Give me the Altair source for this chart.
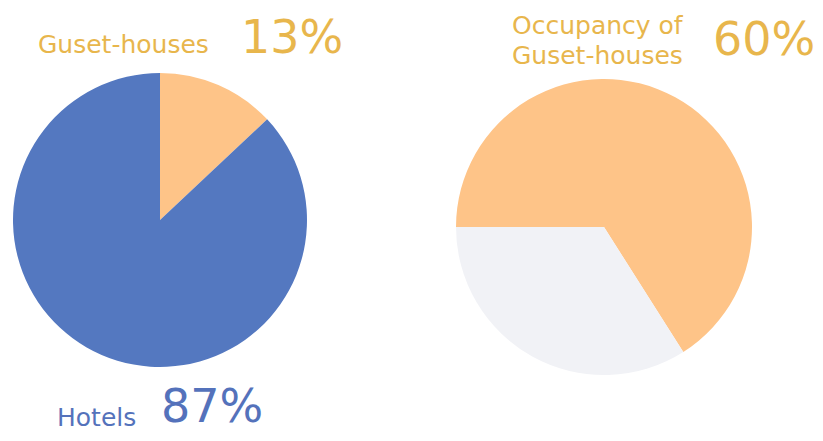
import altair as alt
import pandas as pd

# Left pie: share of accommodation
share_labels = ["Guset-houses", "Hotels"]
share_values = [13, 87]
share_colors = ["#fec488", "#5478c0"]

# Right pie: occupancy of guest-houses (slice sizes as drawn)
occ_labels = ["Occupied", "Vacant"]
occ_values = [66, 34]
occ_colors = ["#fec488", "#f1f2f6"]

# Text annotations
ann_texts = ["Guset-houses", "13%", "Hotels", "87%", "Occupancy of", "Guset-houses", "60%"]

left = pd.DataFrame({"label": share_labels, "value": share_values, "order": [0, 1]})
right = pd.DataFrame({"label": occ_labels, "value": occ_values, "order": [0, 1]})

PI = 3.141592653589793

left_pie = alt.Chart(left).mark_arc(outerRadius=147).encode(
    theta=alt.Theta("value:Q", stack=True, scale=alt.Scale(range=[0, 2 * PI])),
    order=alt.Order("order:Q"),
    color=alt.Color("label:N", scale=alt.Scale(domain=share_labels, range=share_colors), legend=None),
    x=alt.value(152),
    y=alt.value(212),
)

right_pie = alt.Chart(right).mark_arc(outerRadius=148).encode(
    theta=alt.Theta("value:Q", stack=True, scale=alt.Scale(range=[1.5 * PI, 3.5 * PI])),
    order=alt.Order("order:Q"),
    color=alt.Color("label:N", scale=alt.Scale(domain=occ_labels, range=occ_colors), legend=None),
    x=alt.value(596),
    y=alt.value(219),
)

FONT = "DejaVu Sans"
ORANGE_TXT = "#e8b64c"
BLUE_TXT = "#5472bb"


def txt(t, x, y, size, color):
    return alt.Chart(pd.DataFrame({"t": [t]})).mark_text(
        align="left", baseline="alphabetic", font=FONT, fontSize=size, color=color
    ).encode(text="t:N", x=alt.value(x), y=alt.value(y))


layers = [
    left_pie,
    right_pie,
    txt(ann_texts[0], 30, 45, 25, ORANGE_TXT),
    txt(ann_texts[1], 233, 45, 46, ORANGE_TXT),
    txt(ann_texts[2], 49, 418, 25, BLUE_TXT),
    txt(ann_texts[3], 153, 414, 46, BLUE_TXT),
    txt(ann_texts[4], 504, 26, 25, ORANGE_TXT),
    txt(ann_texts[5], 504, 56, 25, ORANGE_TXT),
    txt(ann_texts[6], 705, 47, 46, ORANGE_TXT),
]

chart = alt.layer(*layers).resolve_scale(
    color="independent", theta="independent"
).properties(
    width=807, height=425, padding=0, autosize="none"
).configure_view(stroke=None)

chart.save("out.html", embed_options={"renderer": "svg", "actions": False})
